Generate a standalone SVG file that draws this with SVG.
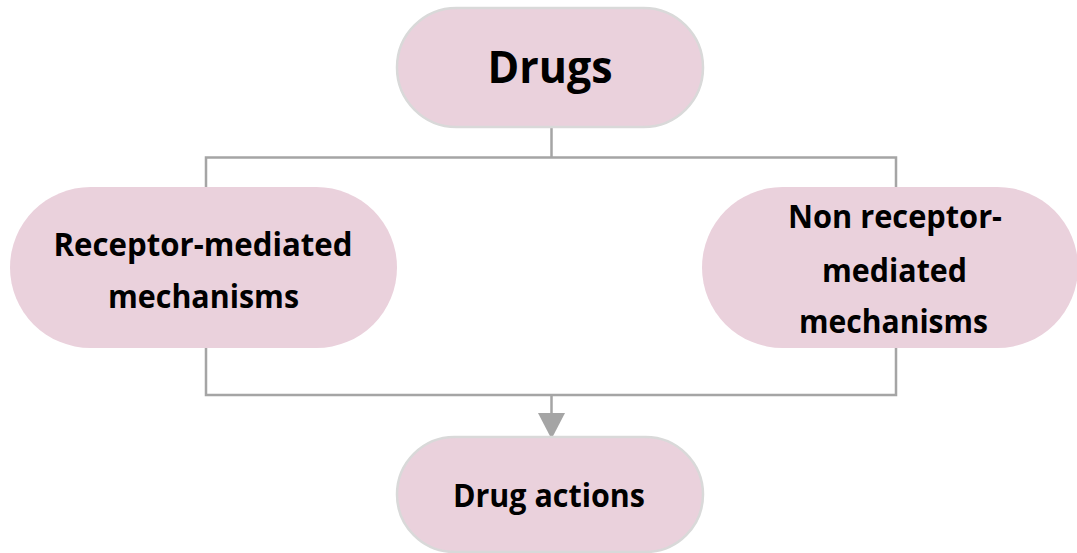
<svg xmlns="http://www.w3.org/2000/svg" width="1077" height="553" viewBox="0 0 1077 553">
  <style>
    .node { fill: #EAD1DC; }
    .bordered { stroke: #D9D9D9; stroke-width: 2.5; }
    .label { font-family: "Open Sans", "Liberation Sans", sans-serif; font-weight: bold; fill: #000; text-anchor: middle; }
    .conn { fill: none; stroke: #A5A5A5; stroke-width: 2.5; }
  </style>
  <rect width="1077" height="553" fill="#FFFFFF"/>
  <g id="connectors">
    <path class="conn" d="M551.5 127 V157.5 M206 187 V157.5 H896 V187"/>
    <path class="conn" d="M206 348 V395 H896 V348 M551.5 395 V414"/>
    <polygon points="538,413 565,413 551.5,439" fill="#A5A5A5"/>
  </g>
  <g id="node-drugs">
    <rect class="node bordered" x="397" y="8" width="306" height="119" rx="59.5"/>
    <text class="label" x="550" y="83" font-size="45" textLength="125" lengthAdjust="spacingAndGlyphs">Drugs</text>
  </g>
  <g id="node-receptor">
    <rect class="node" x="10" y="187" width="387" height="161" rx="80.5"/>
    <text class="label" x="203" y="256" font-size="32" textLength="299" lengthAdjust="spacingAndGlyphs">Receptor-mediated</text>
    <text class="label" x="203.5" y="308" font-size="32" textLength="191" lengthAdjust="spacingAndGlyphs">mechanisms</text>
  </g>
  <g id="node-nonreceptor">
    <rect class="node" x="702" y="187" width="376" height="161" rx="80.5"/>
    <text class="label" x="895" y="228" font-size="32" textLength="214" lengthAdjust="spacingAndGlyphs">Non receptor-</text>
    <text class="label" x="894.5" y="282" font-size="32" textLength="145" lengthAdjust="spacingAndGlyphs">mediated</text>
    <text class="label" x="893.5" y="333" font-size="32" textLength="189" lengthAdjust="spacingAndGlyphs">mechanisms</text>
  </g>
  <g id="node-actions">
    <rect class="node bordered" x="397" y="437" width="306" height="115" rx="57.5"/>
    <text class="label" x="549" y="507" font-size="32" textLength="192" lengthAdjust="spacingAndGlyphs">Drug actions</text>
  </g>
</svg>
